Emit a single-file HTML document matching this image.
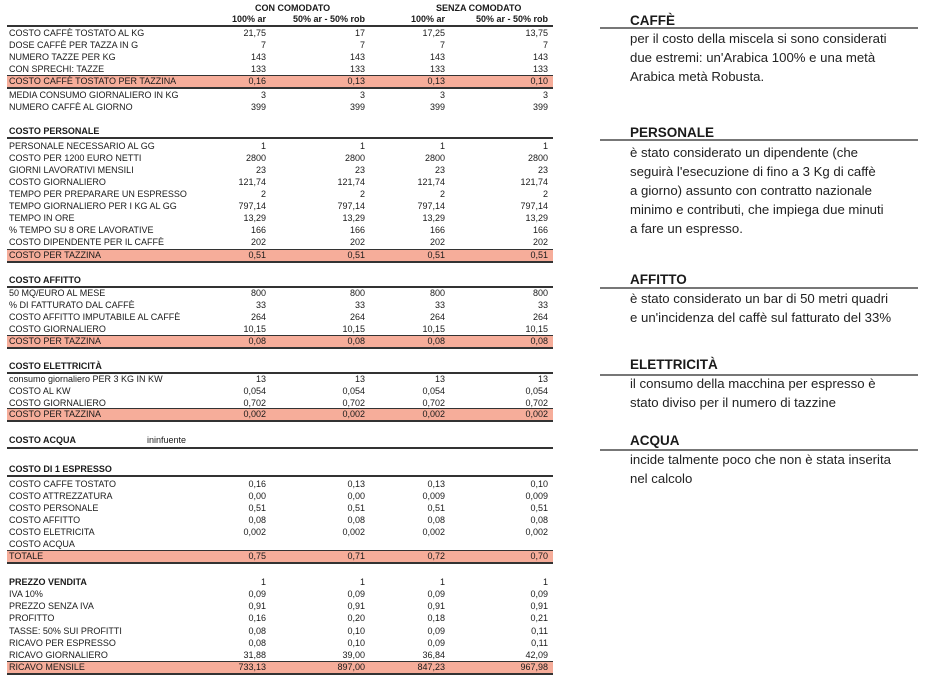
<!DOCTYPE html>
<html><head><meta charset="utf-8"><style>
body{margin:0;width:947px;height:680px;background:#fff;position:relative;overflow:hidden;font-family:"Liberation Sans",sans-serif;color:#1a1a1a}
.r{position:absolute;left:7px;width:546px;height:12px;font-size:9px;line-height:12px}
.r span{position:absolute;white-space:nowrap}
.r .l{left:2px}
.r .a{right:287px}.r .b{right:188px}.r .c{right:108px}.r .d{right:5px}
.h{background:#f6ad9a;border-top:1px solid #333;border-bottom:2px solid #333;height:11px;line-height:11px}
.s{font-weight:bold;border-bottom:2px solid #333}
.ln{position:absolute;left:7px;width:546px;height:2px;background:#333}
.rh{position:absolute;left:630px;font-size:13.5px;font-weight:bold;line-height:14px}
.rl{position:absolute;left:600px;width:318px;height:1.5px;background:#777}
.rb{position:absolute;left:630px;font-size:13.2px;line-height:19px;color:#222}
.t{position:absolute;font-size:9px;font-weight:bold;white-space:nowrap}
</style></head><body>
<div class="t" style="left:255px;top:3px">CON COMODATO</div>
<div class="t" style="left:436px;top:3px">SENZA COMODATO</div>
<div class="r" style="top:13px;font-weight:bold"><span class="a">100% ar</span><span class="b">50% ar - 50% rob</span><span class="c">100% ar</span><span class="d">50% ar - 50% rob</span></div>
<div class="ln" style="top:25px"></div>
<div class="r" style="top:27px"><span class="l">COSTO CAFFÈ TOSTATO AL KG</span><span class="a">21,75</span><span class="b">17</span><span class="c">17,25</span><span class="d">13,75</span></div>
<div class="r" style="top:39px"><span class="l">DOSE CAFFÈ PER TAZZA IN G</span><span class="a">7</span><span class="b">7</span><span class="c">7</span><span class="d">7</span></div>
<div class="r" style="top:51px"><span class="l">NUMERO TAZZE PER KG</span><span class="a">143</span><span class="b">143</span><span class="c">143</span><span class="d">143</span></div>
<div class="r" style="top:63px"><span class="l">CON SPRECHI: TAZZE</span><span class="a">133</span><span class="b">133</span><span class="c">133</span><span class="d">133</span></div>
<div class="r h" style="top:75px"><span class="l">COSTO CAFFÈ TOSTATO PER TAZZINA</span><span class="a">0,16</span><span class="b">0,13</span><span class="c">0,13</span><span class="d">0,10</span></div>
<div class="r" style="top:89px"><span class="l">MEDIA CONSUMO GIORNALIERO IN KG</span><span class="a">3</span><span class="b">3</span><span class="c">3</span><span class="d">3</span></div>
<div class="r" style="top:101px"><span class="l">NUMERO CAFFÈ AL GIORNO</span><span class="a">399</span><span class="b">399</span><span class="c">399</span><span class="d">399</span></div>

<div class="r s" style="top:125px"><span class="l">COSTO PERSONALE</span></div>
<div class="r" style="top:140px"><span class="l">PERSONALE NECESSARIO AL GG</span><span class="a">1</span><span class="b">1</span><span class="c">1</span><span class="d">1</span></div>
<div class="r" style="top:152px"><span class="l">COSTO PER 1200 EURO NETTI</span><span class="a">2800</span><span class="b">2800</span><span class="c">2800</span><span class="d">2800</span></div>
<div class="r" style="top:164px"><span class="l">GIORNI LAVORATIVI MENSILI</span><span class="a">23</span><span class="b">23</span><span class="c">23</span><span class="d">23</span></div>
<div class="r" style="top:176px"><span class="l">COSTO GIORNALIERO</span><span class="a">121,74</span><span class="b">121,74</span><span class="c">121,74</span><span class="d">121,74</span></div>
<div class="r" style="top:188px"><span class="l">TEMPO PER PREPARARE UN ESPRESSO</span><span class="a">2</span><span class="b">2</span><span class="c">2</span><span class="d">2</span></div>
<div class="r" style="top:200px"><span class="l">TEMPO GIORNALIERO PER I KG AL GG</span><span class="a">797,14</span><span class="b">797,14</span><span class="c">797,14</span><span class="d">797,14</span></div>
<div class="r" style="top:212px"><span class="l">TEMPO IN ORE</span><span class="a">13,29</span><span class="b">13,29</span><span class="c">13,29</span><span class="d">13,29</span></div>
<div class="r" style="top:224px"><span class="l">% TEMPO SU 8 ORE LAVORATIVE</span><span class="a">166</span><span class="b">166</span><span class="c">166</span><span class="d">166</span></div>
<div class="r" style="top:236px"><span class="l">COSTO DIPENDENTE PER IL CAFFÈ</span><span class="a">202</span><span class="b">202</span><span class="c">202</span><span class="d">202</span></div>
<div class="r h" style="top:249px"><span class="l">COSTO PER TAZZINA</span><span class="a">0,51</span><span class="b">0,51</span><span class="c">0,51</span><span class="d">0,51</span></div>

<div class="r s" style="top:274px"><span class="l">COSTO AFFITTO</span></div>
<div class="r" style="top:287px"><span class="l">50 MQ/EURO AL MESE</span><span class="a">800</span><span class="b">800</span><span class="c">800</span><span class="d">800</span></div>
<div class="r" style="top:299px"><span class="l">% DI FATTURATO DAL CAFFÈ</span><span class="a">33</span><span class="b">33</span><span class="c">33</span><span class="d">33</span></div>
<div class="r" style="top:311px"><span class="l">COSTO AFFITTO IMPUTABILE AL CAFFÈ</span><span class="a">264</span><span class="b">264</span><span class="c">264</span><span class="d">264</span></div>
<div class="r" style="top:323px"><span class="l">COSTO GIORNALIERO</span><span class="a">10,15</span><span class="b">10,15</span><span class="c">10,15</span><span class="d">10,15</span></div>
<div class="r h" style="top:335px"><span class="l">COSTO PER TAZZINA</span><span class="a">0,08</span><span class="b">0,08</span><span class="c">0,08</span><span class="d">0,08</span></div>

<div class="r s" style="top:360px"><span class="l">COSTO ELETTRICITÀ</span></div>
<div class="r" style="top:373px"><span class="l">consumo giornaliero PER 3 KG IN KW</span><span class="a">13</span><span class="b">13</span><span class="c">13</span><span class="d">13</span></div>
<div class="r" style="top:385px"><span class="l">COSTO AL KW</span><span class="a">0,054</span><span class="b">0,054</span><span class="c">0,054</span><span class="d">0,054</span></div>
<div class="r" style="top:397px"><span class="l">COSTO GIORNALIERO</span><span class="a">0,702</span><span class="b">0,702</span><span class="c">0,702</span><span class="d">0,702</span></div>
<div class="r h" style="top:408px"><span class="l">COSTO PER TAZZINA</span><span class="a">0,002</span><span class="b">0,002</span><span class="c">0,002</span><span class="d">0,002</span></div>

<div class="r s" style="top:434px;height:13px"><span class="l">COSTO ACQUA</span><span style="left:140px;font-weight:normal">ininfuente</span></div>

<div class="r s" style="top:463px"><span class="l">COSTO DI 1 ESPRESSO</span></div>
<div class="r" style="top:478px"><span class="l">COSTO CAFFE TOSTATO</span><span class="a">0,16</span><span class="b">0,13</span><span class="c">0,13</span><span class="d">0,10</span></div>
<div class="r" style="top:490px"><span class="l">COSTO ATTREZZATURA</span><span class="a">0,00</span><span class="b">0,00</span><span class="c">0,009</span><span class="d">0,009</span></div>
<div class="r" style="top:502px"><span class="l">COSTO PERSONALE</span><span class="a">0,51</span><span class="b">0,51</span><span class="c">0,51</span><span class="d">0,51</span></div>
<div class="r" style="top:514px"><span class="l">COSTO AFFITTO</span><span class="a">0,08</span><span class="b">0,08</span><span class="c">0,08</span><span class="d">0,08</span></div>
<div class="r" style="top:526px"><span class="l">COSTO ELETRICITA</span><span class="a">0,002</span><span class="b">0,002</span><span class="c">0,002</span><span class="d">0,002</span></div>
<div class="r" style="top:538px"><span class="l">COSTO ACQUA</span></div>
<div class="r h" style="top:550px"><span class="l">TOTALE</span><span class="a">0,75</span><span class="b">0,71</span><span class="c">0,72</span><span class="d">0,70</span></div>

<div class="r" style="top:576px;font-weight:bold"><span class="l">PREZZO VENDITA</span><span class="a" style="font-weight:normal">1</span><span class="b" style="font-weight:normal">1</span><span class="c" style="font-weight:normal">1</span><span class="d" style="font-weight:normal">1</span></div>
<div class="r" style="top:588px"><span class="l">IVA 10%</span><span class="a">0,09</span><span class="b">0,09</span><span class="c">0,09</span><span class="d">0,09</span></div>
<div class="r" style="top:600px"><span class="l">PREZZO SENZA IVA</span><span class="a">0,91</span><span class="b">0,91</span><span class="c">0,91</span><span class="d">0,91</span></div>
<div class="r" style="top:612px"><span class="l">PROFITTO</span><span class="a">0,16</span><span class="b">0,20</span><span class="c">0,18</span><span class="d">0,21</span></div>
<div class="r" style="top:625px"><span class="l">TASSE: 50% SUI PROFITTI</span><span class="a">0,08</span><span class="b">0,10</span><span class="c">0,09</span><span class="d">0,11</span></div>
<div class="r" style="top:637px"><span class="l">RICAVO PER ESPRESSO</span><span class="a">0,08</span><span class="b">0,10</span><span class="c">0,09</span><span class="d">0,11</span></div>
<div class="r" style="top:649px"><span class="l">RICAVO GIORNALIERO</span><span class="a">31,88</span><span class="b">39,00</span><span class="c">36,84</span><span class="d">42,09</span></div>
<div class="r h" style="top:661px"><span class="l">RICAVO MENSILE</span><span class="a">733,13</span><span class="b">897,00</span><span class="c">847,23</span><span class="d">967,98</span></div>

<div class="rh" style="top:14px">CAFFÈ</div>
<div class="rl" style="top:27px"></div>
<div class="rb" style="top:29px">per il costo della miscela si sono considerati<br>due estremi: un'Arabica 100% e una metà<br>Arabica metà Robusta.</div>

<div class="rh" style="top:126px">PERSONALE</div>
<div class="rl" style="top:139px"></div>
<div class="rb" style="top:143px">è stato considerato un dipendente (che<br>seguirà l'esecuzione di fino a 3 Kg di caffè<br>a giorno) assunto con contratto nazionale<br>minimo e contributi, che impiega due minuti<br>a fare un espresso.</div>

<div class="rh" style="top:273px">AFFITTO</div>
<div class="rl" style="top:287px"></div>
<div class="rb" style="top:289px">è stato considerato un bar di 50 metri quadri<br>e un'incidenza del caffè sul fatturato del 33%</div>

<div class="rh" style="top:358px">ELETTRICITÀ</div>
<div class="rl" style="top:374px"></div>
<div class="rb" style="top:374px">il consumo della macchina per espresso è<br>stato diviso per il numero di tazzine</div>

<div class="rh" style="top:434px">ACQUA</div>
<div class="rl" style="top:449px"></div>
<div class="rb" style="top:450px">incide talmente poco che non è stata inserita<br>nel calcolo</div>
</body></html>
